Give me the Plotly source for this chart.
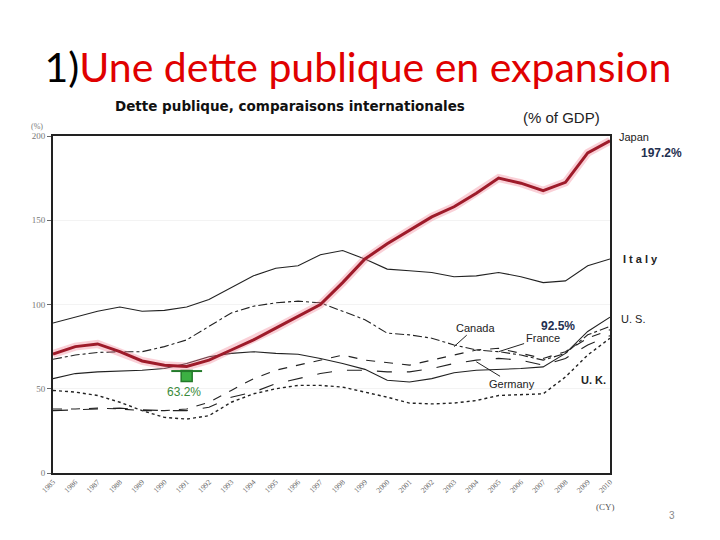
import plotly.graph_objects as go

years = list(range(1985, 2011))
japan = [70.6, 75, 76.6, 72, 66.5, 64, 63.2, 67, 73, 79, 86, 93, 100, 113, 127, 136, 144, 152, 158, 166, 175, 172, 167.5, 172.5, 190, 197.2]
italy = [89, 92.5, 96, 98.5, 96, 96.5, 98.5, 103, 110, 117, 121.5, 123, 129.5, 132, 127, 121, 120, 119, 116.5, 117, 119, 116.5, 113, 114, 123, 127]
us = [56, 59, 60, 60.5, 61, 62, 65, 69, 71, 72, 71, 70.5, 68, 65, 61.5, 55, 54, 56, 59.5, 61, 61.5, 62, 63, 71, 84, 92.5]
canada = [67.5, 70, 71.5, 72, 72, 75, 79, 87, 95, 99, 101, 102, 101, 96, 91, 83, 82, 80, 76, 73, 72, 70, 67, 71, 82, 87]
france = [38, 38, 38.5, 38, 37, 37, 38, 42, 49, 56, 61, 64, 67, 70, 67, 65.5, 64, 67, 70, 73, 74, 71, 68, 72, 80, 85]
germany = [37, 37.5, 38, 38.5, 37.5, 37, 37, 39, 45, 48, 53, 56, 59, 61, 61, 60, 60, 62, 65, 67, 68, 67, 64, 68, 76, 81.5]
uk = [49, 48, 46, 42, 37, 33, 32, 34, 42, 47, 50, 52, 52, 51, 48, 45, 41.5, 41, 41.5, 43, 46, 46.5, 47, 57, 70, 80]
ytick_vals = [0, 50, 100, 150, 200]
min_year, min_val = 1991, 57.5

fig = go.Figure()

def thin(name, ys, dash, width=1.1):
    fig.add_trace(go.Scatter(x=years, y=ys, mode="lines", name=name,
                             line=dict(color="#222222", width=width, dash=dash)))

thin("Italy", italy, "solid")
thin("U.S.", us, "solid")
thin("Canada", canada, "dashdot")
thin("France", france, "dash")
thin("Germany", germany, "longdash")
thin("U.K.", uk, "dot", 1.4)

# Japan with soft glow
fig.add_trace(go.Scatter(x=years, y=japan, mode="lines", line=dict(color="rgba(240,120,140,0.35)", width=8)))
fig.add_trace(go.Scatter(x=years, y=japan, mode="lines", name="Japan", line=dict(color="#9e1b2a", width=3)))

# green marker at the 1991 minimum
fig.add_trace(go.Scatter(x=[min_year], y=[min_val], mode="markers",
                         marker=dict(symbol="square", size=11, color="#3cb043", line=dict(color="#237a2a", width=1.5))))
fig.add_trace(go.Scatter(x=[min_year], y=[min_val + 3], mode="markers",
                         marker=dict(symbol="line-ew", size=22, line=dict(color="#237a2a", width=2))))

def px_x(p):
    return (p - 53) / 557.0

def ann(text, x, y, size=11, color="#222", bold=False, xanchor="center", family="Liberation Sans", xref="paper"):
    if bold:
        text = "<b>" + text + "</b>"
    fig.add_annotation(x=x, y=y, xref=xref, yref="y", text=text, showarrow=False,
                       font=dict(size=size, color=color, family=family), xanchor=xanchor, yanchor="middle")

ann("Japan", px_x(617), 199.5, size=11, xanchor="left")
ann("197.2%", px_x(639), 190, size=12, color="#1f3050", bold=True, xanchor="left")
ann("I t a l y", px_x(621), 127, size=11, xanchor="left", bold=True)
ann("U. S.", px_x(619), 91.5, size=11, xanchor="left")
ann("U. K.", px_x(608), 55, size=11, bold=True, xanchor="right")
ann("92.5%", px_x(558), 87.5, size=12, color="#1f3050", bold=True)
ann("63.2%", px_x(184), 48, size=12, color="#3a8a3a")

def pointer(text, x, y, ax, ay):
    fig.add_annotation(x=x, y=y, xref="x", yref="y", text=text, showarrow=True, arrowhead=0,
                       arrowwidth=1, arrowcolor="#222", ax=ax, ay=ay, standoff=0,
                       font=dict(size=11, color="#222", family="Liberation Sans"))

pointer("Canada", 2003, 75, 21, -19)
pointer("France", 2005, 72, 44, -14)
pointer("Germany", 2004, 66, 36, 22)

fig.update_layout(
    width=712, height=532,
    margin=dict(l=45, r=110, t=128, b=67),
    paper_bgcolor="white", plot_bgcolor="white",
    showlegend=False,
    title=dict(text="<span style='color:black'>1)</span>Une dette publique en expansion",
               x=0.4916, xanchor="center", y=0.887, yanchor="middle",
               font=dict(family="Lato", size=41, color="#e00000")),
    xaxis=dict(range=[1985, 2010], tickvals=years, ticktext=[str(y) for y in years],
               tickangle=-45, tickfont=dict(size=7.5, color="#666", family="Liberation Serif"),
               showgrid=False, zeroline=False, showline=True, linecolor="#222", linewidth=1.5,
               mirror=True, ticks="", fixedrange=True),
    yaxis=dict(range=[0, 200], tickvals=ytick_vals, ticktext=[str(v) for v in ytick_vals],
               tickfont=dict(size=9, color="#777", family="Liberation Serif"),
               showgrid=True, gridcolor="#f3f3f3", zeroline=False, showline=True,
               linecolor="#222", linewidth=2, mirror=True, ticks="outside", ticklen=4,
               tickcolor="#666"),
)

fig.add_annotation(x=px_x(290), y=1.088, xref="paper", yref="paper", text="<b>Dette publique, comparaisons internationales</b>",
                   showarrow=False, font=dict(size=13.5, family="DejaVu Sans", color="#111"), xanchor="center", yanchor="middle")
fig.add_annotation(x=px_x(561), y=1.055, xref="paper", yref="paper", text="(% of GDP)",
                   showarrow=False, font=dict(size=15, family="Liberation Sans", color="#222"), xanchor="center", yanchor="middle")
fig.add_annotation(x=px_x(37), y=1.028, xref="paper", yref="paper", text="(%)",
                   showarrow=False, font=dict(size=8, family="Liberation Serif", color="#777"), xanchor="center", yanchor="middle")
fig.add_annotation(x=px_x(605), y=-0.10, xref="paper", yref="paper", text="(CY)",
                   showarrow=False, font=dict(size=9, family="Liberation Serif", color="#555"), xanchor="center", yanchor="middle")
fig.add_annotation(x=px_x(672), y=-0.125, xref="paper", yref="paper", text="3",
                   showarrow=False, font=dict(size=10, family="Liberation Sans", color="#888"), xanchor="center", yanchor="middle")

fig.write_html("out.html")
